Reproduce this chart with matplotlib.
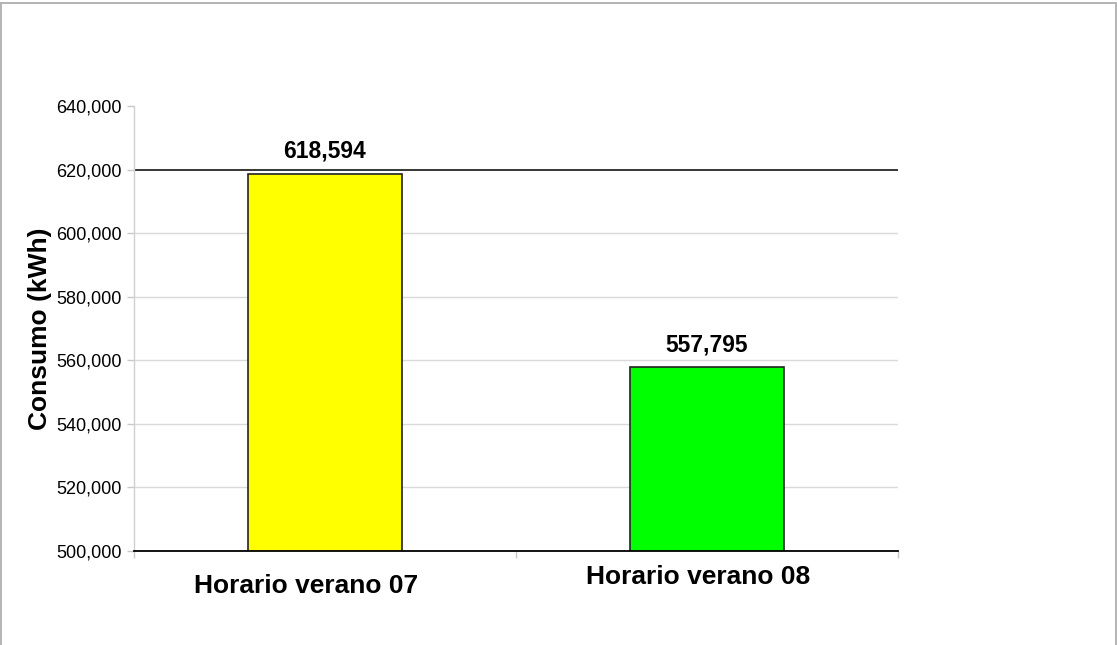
import matplotlib
matplotlib.use("Agg")
import matplotlib.pyplot as plt
from matplotlib.patches import Rectangle
from matplotlib.transforms import ScaledTranslation
from matplotlib.ticker import FuncFormatter, FixedLocator

categories = ["Horario verano 07", "Horario verano 08"]
consumo_kwh = [618594, 557795]
bar_colors = ["#ffff00", "#00ff00"]
y_ticks = [500000, 520000, 540000, 560000, 580000, 600000, 620000, 640000]

plt.rcParams["font.family"] = ["Liberation Sans", "DejaVu Sans"]

DPI = 100
fig = plt.figure(figsize=(11.17, 6.45), dpi=DPI)
fig.patch.set_facecolor("white")

# light grey frame around the chart area (open at the bottom)
fig.add_artist(Rectangle((1.2 / 1117, -0.05), 1 - 2.4 / 1117, 1.05 - 2.5 / 645,
                         transform=fig.transFigure, fill=False,
                         edgecolor="#b3b3b3", linewidth=1.4))

ax = fig.add_axes([134 / 1117, 1 - 551 / 645, (898 - 134) / 1117, (551 - 106) / 645])

positions = [i + 0.5 for i in range(len(categories))]
bars = ax.bar(positions, consumo_kwh, width=0.403, color=bar_colors,
              edgecolor="#222222", linewidth=1.2, zorder=3)

ax.set_xlim(0, len(categories))
ax.set_ylim(y_ticks[0], y_ticks[-1])
ax.set_yticks(y_ticks)
ax.yaxis.set_major_formatter(FuncFormatter(lambda v, p: f"{v:,.0f}"))

# category boundary ticks (minor) and centred labels (major)
ax.xaxis.set_minor_locator(FixedLocator(list(range(len(categories) + 1))))
ax.set_xticks(positions)
ax.set_xticklabels(categories, fontsize=19, fontweight="bold")
ax.tick_params(axis="x", which="major", length=0, pad=10)
ax.tick_params(axis="x", which="minor", length=5, color="#c8c8c8", width=1.0)
ax.tick_params(axis="y", length=5, color="#c8c8c8", width=1.0,
               labelsize=13, pad=4)

# individual label nudges
label_shifts = [(-18.5, -9), (-8.5, 0)]
for lbl, (dx, dy) in zip(ax.get_xticklabels(), label_shifts):
    lbl.set_transform(lbl.get_transform() +
                      ScaledTranslation(dx / DPI, dy / DPI, fig.dpi_scale_trans))

ax.grid(axis="y", color="#d9d9d9", linewidth=1.0, zorder=0)
ax.set_axisbelow(True)
for val, gl, tk in zip(ax.get_yticks(), ax.yaxis.get_gridlines(),
                       ax.yaxis.get_major_ticks()):
    if val == 620000:
        gl.set_color("black")
        gl.set_linewidth(1.1)
        gl.set_zorder(2.5)
        tk.tick1line.set_color("black")
    if val == y_ticks[0]:
        tk.tick1line.set_color("black")
    if val == y_ticks[-1]:
        gl.set_visible(False)

for side in ("top", "right"):
    ax.spines[side].set_visible(False)
ax.spines["left"].set_color("#d0d0d0")
ax.spines["left"].set_linewidth(1.0)
ax.spines["bottom"].set_color("black")
ax.spines["bottom"].set_linewidth(1.3)
ax.spines["bottom"].set_zorder(4)

ax.set_ylabel("Consumo (kWh)", fontsize=19, fontweight="bold", labelpad=3)

ax.bar_label(bars, labels=[f"{v:,.0f}" for v in consumo_kwh],
             padding=8, fontsize=16.5, fontweight="bold")

fig.savefig("out.png", dpi=DPI, facecolor="white")
